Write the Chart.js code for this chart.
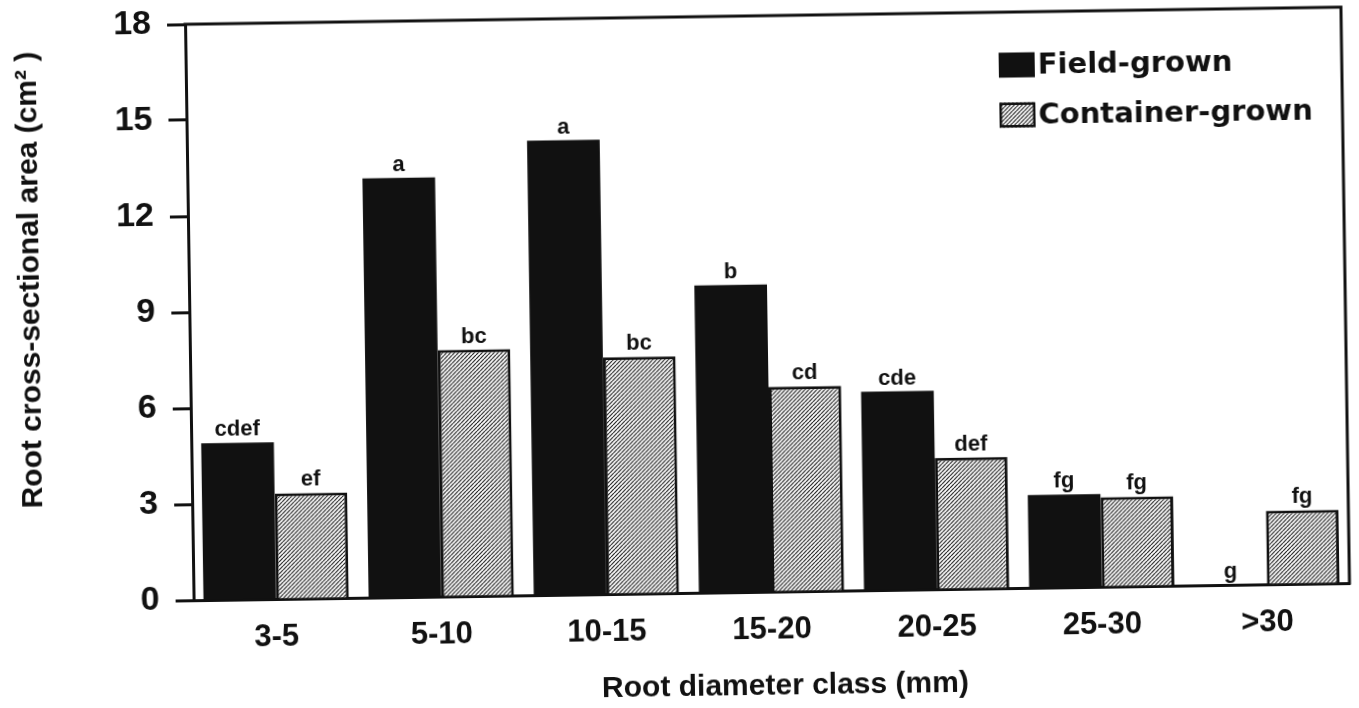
<!DOCTYPE html>
<html>
<head>
<meta charset="utf-8">
<script src="https://cdn.jsdelivr.net/npm/chart.js@4.4.1/dist/chart.umd.min.js"></script>
<style>
  html, body { margin: 0; padding: 0; background: #fff; overflow: hidden; }
  #wrap { width: 1359px; height: 708px; transform: rotate(-0.85deg); transform-origin: 50% 50%; background: #fff; }
</style>
</head>
<body>
<div id="wrap"><canvas id="chart"></canvas></div>
<script>
// ---- data ----
const categories = ['3-5', '5-10', '10-15', '15-20', '20-25', '25-30', '>30'];
const fieldGrown = [4.9, 13.1, 14.2, 9.6, 6.2, 2.9, 0];
const containerGrown = [3.3, 7.7, 7.4, 6.4, 4.1, 2.8, 2.3];
const fieldLetters = ['cdef', 'a', 'a', 'b', 'cde', 'fg', 'g'];
const containerLetters = ['ef', 'bc', 'bc', 'cd', 'def', 'fg', 'fg'];
const seriesNames = ['Field-grown', 'Container-grown'];
const yTicks = [0, 3, 6, 9, 12, 15, 18];
const xTitle = 'Root diameter class (mm)';
const yTitle = 'Root cross-sectional area (cm² )';

const INK = '#111';
const FONT = '"Liberation Sans", Arial, Helvetica, sans-serif';

function makeHatch() {
  const s = 4;
  const c = document.createElement('canvas');
  c.width = s; c.height = s;
  const g = c.getContext('2d');
  g.fillStyle = '#fff';
  g.fillRect(0, 0, s, s);
  g.strokeStyle = '#222';
  g.lineWidth = 1.2;
  g.beginPath();
  g.moveTo(0, s); g.lineTo(s, 0);
  g.moveTo(-s, s); g.lineTo(0, 0);
  g.moveTo(s, 2 * s); g.lineTo(2 * s, s);
  g.moveTo(s, s); g.lineTo(2 * s, 0);
  g.moveTo(-s, 2 * s); g.lineTo(s, 0);
  g.stroke();
  return g.createPattern(c, 'repeat');
}
const hatch = makeHatch();

const framePlugin = {
  id: 'frame',
  afterDraw(chart) {
    const { ctx, chartArea: a } = chart;
    ctx.save();
    ctx.strokeStyle = INK;
    ctx.lineWidth = 3;
    ctx.beginPath();
    ctx.moveTo(a.left - 1.5, a.top);
    ctx.lineTo(a.right, a.top);
    ctx.lineTo(a.right, a.bottom + 1.5);
    ctx.stroke();
    ctx.restore();
  }
};

const letterPlugin = {
  id: 'letters',
  afterDatasetsDraw(chart) {
    const ctx = chart.ctx;
    const sets = [fieldLetters, containerLetters];
    ctx.save();
    ctx.font = 'bold 22px ' + FONT;
    ctx.fillStyle = INK;
    ctx.textAlign = 'center';
    ctx.textBaseline = 'alphabetic';
    chart.data.datasets.forEach((ds, i) => {
      chart.getDatasetMeta(i).data.forEach((bar, j) => {
        ctx.fillText(sets[i][j], bar.x, bar.y - 7);
      });
    });
    ctx.restore();
  }
};

const legendPlugin = {
  id: 'boxLegend',
  afterDraw(chart) {
    const { ctx, chartArea: a } = chart;
    const x0 = a.right - 343;
    const rows = [a.top + 53, a.top + 103];
    const w = 36, h = 25;
    ctx.save();
    ctx.font = 'bold 29px "DejaVu Sans", sans-serif';
    ctx.textBaseline = 'middle';
    ctx.textAlign = 'left';
    chart.data.datasets.forEach((ds, i) => {
      const cy = rows[i];
      ctx.fillStyle = ds.backgroundColor;
      ctx.fillRect(x0, cy - h / 2, w, h);
      if (ds.borderWidth) {
        ctx.lineWidth = 2.5;
        ctx.strokeStyle = ds.borderColor;
        ctx.strokeRect(x0 + 1.25, cy - h / 2 + 1.25, w - 2.5, h - 2.5);
      }
      ctx.fillStyle = INK;
      ctx.fillText(ds.label, x0 + w + 3, cy + 1);
    });
    ctx.restore();
  }
};

new Chart(document.getElementById('chart'), {
  type: 'bar',
  data: {
    labels: categories,
    datasets: [
      { label: seriesNames[0], data: fieldGrown, backgroundColor: INK, borderWidth: 0 },
      { label: seriesNames[1], data: containerGrown, backgroundColor: hatch, borderColor: INK, borderWidth: 3 }
    ]
  },
  options: {
    responsive: true,
    maintainAspectRatio: false,
    animation: false,
    layout: { padding: { top: 17, right: 13, left: 0, bottom: 0 } },
    datasets: { bar: { categoryPercentage: 0.88, barPercentage: 1.0 } },
    plugins: { legend: { display: false }, tooltip: { enabled: false } },
    scales: {
      x: {
        grid: { display: false, drawTicks: false },
        border: { display: true, color: INK, width: 3 },
        ticks: { font: { family: FONT, size: 31, weight: 'bold' }, color: INK, padding: 20 },
        title: {
          display: true, text: '   ' + xTitle, color: INK,
          font: { family: FONT, size: 30, weight: 'bold' },
          padding: { top: 0, bottom: 2 }
        },
        afterFit(scale) { scale.height = 115; }
      },
      y: {
        min: 0, max: 18,
        afterBuildTicks(scale) { scale.ticks = yTicks.map(v => ({ value: v })); },
        grid: { drawOnChartArea: false, drawTicks: true, tickLength: 18, tickWidth: 3, tickColor: INK },
        border: { display: true, color: INK, width: 3 },
        ticks: { font: { family: FONT, size: 34, weight: 'bold', lineHeight: 0.01 }, color: INK, padding: 16 },
        title: {
          display: true, text: yTitle + '   ', align: 'end', color: INK,
          font: { family: FONT, size: 30, weight: 'bold' },
          padding: { top: 14, bottom: 0 }
        },
        afterFit(scale) { scale.width = 190; }
      }
    }
  },
  plugins: [framePlugin, letterPlugin, legendPlugin]
});
</script>
</body>
</html>
